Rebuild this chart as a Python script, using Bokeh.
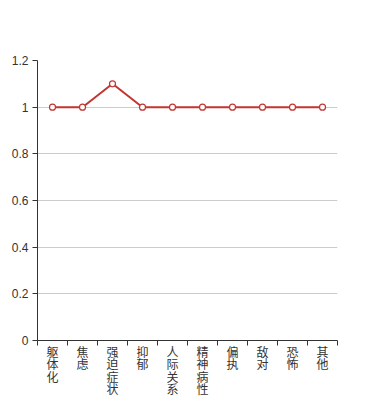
from bokeh.plotting import figure
from bokeh.models import FixedTicker, Range1d
from bokeh.embed import file_html
from bokeh.resources import INLINE

categories = ["躯体化", "焦虑", "强迫症状", "抑郁", "人际关系", "精神病性", "偏执", "敌对", "恐怖", "其他"]
values = [1, 1, 1.1, 1, 1, 1, 1, 1, 1, 1]
y_ticks = [0, 0.2, 0.4, 0.6, 0.8, 1.0, 1.2]
y_tick_labels = ["0", "0.2", "0.4", "0.6", "0.8", "1", "1.2"]

n = len(categories)
xs = [i + 0.5 for i in range(n)]

p = figure(width=374, height=400, output_backend="svg", toolbar_location=None,
           x_range=Range1d(0, n), y_range=Range1d(0, 1.2),
           min_border_left=37, min_border_right=37, min_border_top=60, min_border_bottom=60)
p.outline_line_color = None
p.background_fill_color = "white"
p.border_fill_color = "white"

# x axis: labels at category centres (vertical text), tick marks at boundaries
p.xaxis.ticker = FixedTicker(ticks=xs, minor_ticks=list(range(n + 1)))
p.xaxis.major_label_overrides = {x: "\n".join(list(c)) for x, c in zip(xs, categories)}
p.xaxis.major_tick_out = 0
p.xaxis.major_tick_in = 0
p.xaxis.minor_tick_out = 5
p.xaxis.minor_tick_in = 0
p.xaxis.minor_tick_line_color = "#333333"
p.xaxis.axis_line_color = "#333333"
p.xaxis.major_label_text_font = "Liberation Sans, 'Noto Sans CJK SC'"
p.xaxis.major_label_text_font_size = "12px"
p.xaxis.major_label_text_line_height = 0.9
p.xaxis.major_label_text_color = "#333333"
p.xaxis.major_label_standoff = 0
p.xgrid.visible = False

# y axis
p.yaxis.ticker = FixedTicker(ticks=y_ticks, minor_ticks=[])
p.yaxis.major_label_overrides = {t: l for t, l in zip(y_ticks, y_tick_labels)}
p.yaxis.major_tick_out = 5
p.yaxis.major_tick_in = 0
p.yaxis.major_tick_line_color = "#333333"
p.yaxis.axis_line_color = "#333333"
p.yaxis.major_label_text_font = "Liberation Sans"
p.yaxis.major_label_text_font_size = "12px"
p.yaxis.major_label_text_color = "#333333"
p.yaxis.major_label_standoff = 4
p.ygrid.ticker = FixedTicker(ticks=y_ticks)
p.ygrid.grid_line_color = "#cccccc"

p.line(xs, values, line_color="#c23531", line_width=2)
p.scatter(xs, values, size=6, fill_color="white", line_color="#c23531", line_width=1.2)

open("out.html", "w").write(file_html(p, INLINE))
